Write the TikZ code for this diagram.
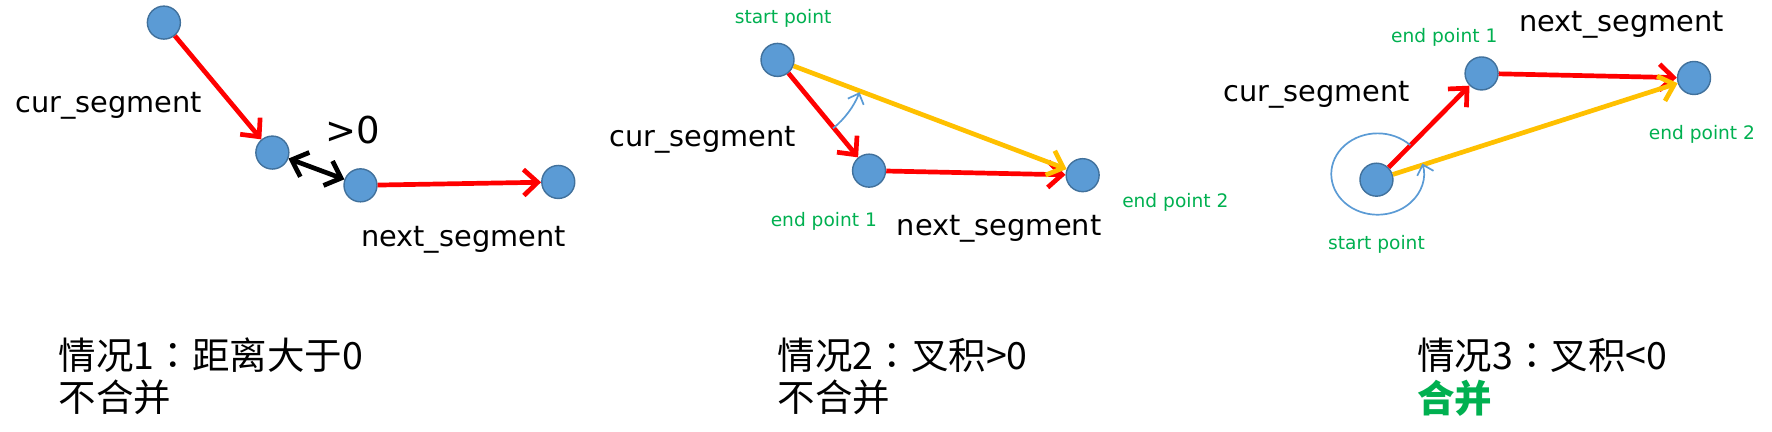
\documentclass[tikz,border=0pt]{standalone}
\usepackage{fontspec}
\setmainfont{DejaVu Sans}
\newfontfamily\cjk{Noto Sans CJK SC}
\newfontfamily\cjktc{Noto Sans CJK TC}
\usetikzlibrary{arrows.meta}
\definecolor{ptfill}{HTML}{5B9BD5}
\definecolor{ptdraw}{HTML}{41719C}
\definecolor{segred}{HTML}{FF0000}
\definecolor{segyel}{HTML}{FFC000}
\definecolor{lblgreen}{HTML}{00B050}
\newcommand{\fwcolon}{{\cjktc ：}}
\tikzset{
  pt/.style={circle,fill=ptfill,draw=ptdraw,line width=1.4pt,minimum size=33pt,inner sep=0pt},
  barb/.tip={Straight Barb[length=14pt,width=26pt]},
  redseg/.style={draw=segred,line width=4.7pt,-barb},
  yelseg/.style={draw=segyel,line width=4.7pt,-barb},
  dblseg/.style={draw=black,line width=4.7pt,barb-barb},
  turnarc/.style={draw=ptfill,line width=1.7pt,-{Straight Barb[length=9pt,width=17pt]}},
  seglbl/.style={inner sep=0pt,font=\fontsize{28.8}{34}\selectfont},
  greenlbl/.style={inner sep=0pt,text=lblgreen,font=\fontsize{18.6}{22}\selectfont},
  caselbl/.style={inner sep=0pt,anchor=west,font=\cjk\fontsize{37.5}{44}\selectfont},
}
\begin{document}
\begin{tikzpicture}[x=1.1301pt,y=-1.1301pt]
\path[use as bounding box] (0,0) rectangle (1568,381.4);
% ---------- panel 1 ----------
\node[pt] (a1) at (145,20) {};
\node[pt] (b1) at (241,135) {};
\node[pt] (c1) at (319,164) {};
\node[pt] (d1) at (494,161) {};
\draw[redseg] (a1) -- (b1);
\draw[redseg] (c1) -- (d1);
\draw[dblseg] (b1) -- (c1);
\node[seglbl] (cur1) at (96,94) {cur\_segment};
\node[seglbl,font=\fontsize{37}{42}\selectfont] (gt1) at (312,115) {>0};
\node[seglbl] (next1) at (410,212) {next\_segment};
% ---------- panel 2 ----------
\node[pt] (s2) at (688,53) {};
\node[pt] (e12) at (769,151) {};
\node[pt] (e22) at (958,155) {};
\draw[redseg] (s2) -- (e12);
\draw[redseg] (e12) -- (e22);
\draw[yelseg] (s2) -- (e22);
\draw[turnarc] (s2) ++(51:78) arc[start angle=51,end angle=21.5,radius=78];
\node[greenlbl] (sp2) at (693,16) {start point};
\node[greenlbl] (ep12) at (729,196) {end point 1};
\node[greenlbl] (ep22) at (1040,179) {end point 2};
\node[seglbl] (cur2) at (622,124) {cur\_segment};
\node[seglbl] (next2) at (884,202) {next\_segment};
% ---------- panel 3 ----------
\node[pt] (s3) at (1218,159) {};
\node[pt] (e13) at (1311,65) {};
\node[pt] (e23) at (1499,69) {};
\coordinate (c3) at (1219,154);
\draw[redseg] (s3) -- (e13);
\draw[redseg] (e13) -- (e23);
\draw[yelseg] (s3) -- (e23);
\draw[turnarc] (c3) ++(-45:41 and 36) arc[start angle=-45,end angle=-375,x radius=41,y radius=36];
\node[greenlbl] (sp3) at (1218,216) {start point};
\node[greenlbl] (ep13) at (1278,33) {end point 1};
\node[greenlbl] (ep23) at (1506,119) {end point 2};
\node[seglbl] (cur3) at (1165,84) {cur\_segment};
\node[seglbl] (next3) at (1435,22) {next\_segment};
% ---------- captions ----------
\node[caselbl] (k1a) at (52,314) {情况1\fwcolon 距离大于0};
\node[caselbl] (k1b) at (52,352) {不合并};
\node[caselbl] (k2a) at (688,314) {情况2\fwcolon 叉积>0};
\node[caselbl] (k2b) at (688,352) {不合并};
\node[caselbl] (k3a) at (1254,314) {情况3\fwcolon 叉积<0};
\node[caselbl,text=lblgreen,font=\cjk\bfseries\fontsize{37.5}{44}\selectfont] (k3b) at (1254,352) {合并};
\end{tikzpicture}
\end{document}
